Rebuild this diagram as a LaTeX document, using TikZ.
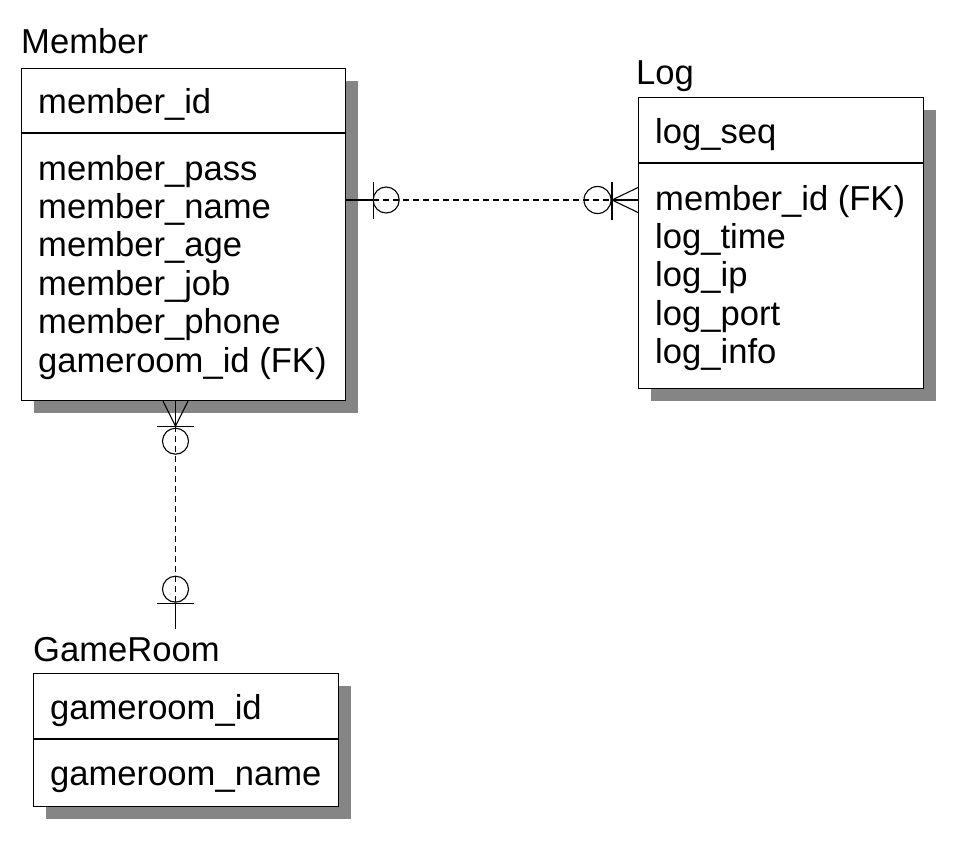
\documentclass[tikz,border=0pt]{standalone}
\usepackage{fontspec}
\setmainfont{Liberation Sans}
\usetikzlibrary{calc}
\newcommand\attrfont{\fontsize{34.6}{40}\selectfont}
\begin{document}
\begin{tikzpicture}[x=1pt,y=-1pt,
  entity/.style={draw, line width=1.2pt, fill=white, inner sep=0pt, anchor=north west},
  shadowbox/.style={fill=black!48, draw=none, inner sep=0pt, anchor=north west},
  ttl/.style={anchor=base west, inner sep=0pt, font=\attrfont},
  attr/.style={anchor=base west, inner sep=0pt, font=\attrfont},
  divider/.style={line width=1.2pt},
  rel/.style={line width=1.1pt},
  reldash/.style={line width=1.1pt, dash pattern=on 6pt off 4pt},
]
\useasboundingbox (0,0) rectangle (970,844);

% ---------- Member ----------
\node[shadowbox, minimum width=324pt, minimum height=332pt] (membershadow) at (34,81) {};
\node[entity, minimum width=324pt, minimum height=332pt] (member) at (21,68) {};
\draw[divider] ($(member.north west)+(0,65)$) -- ($(member.north east)+(0,65)$);
\node[ttl] (membertitle) at (21,53) {Member};
\node[attr] (m0) at (38,113) {member\_id};
\node[attr] (m1) at (38,180) {member\_pass};
\node[attr] (m2) at (38,218.4) {member\_name};
\node[attr] (m3) at (38,256.8) {member\_age};
\node[attr] (m4) at (38,295.2) {member\_job};
\node[attr] (m5) at (38,333.6) {member\_phone};
\node[attr] (m6) at (38,372) {gameroom\_id (FK)};

% ---------- Log ----------
\node[shadowbox, minimum width=285pt, minimum height=291pt] (logshadow) at (651,110) {};
\node[entity, minimum width=285pt, minimum height=291pt] (log) at (638,97) {};
\draw[divider] ($(log.north west)+(0,66)$) -- ($(log.north east)+(0,66)$);
\node[ttl] (logtitle) at (636,84) {Log};
\node[attr] (l0) at (655,143) {log\_seq};
\node[attr] (l1) at (655,210) {member\_id (FK)};
\node[attr] (l2) at (655,248.4) {log\_time};
\node[attr] (l3) at (655,286.8) {log\_ip};
\node[attr] (l4) at (655,325.2) {log\_port};
\node[attr] (l5) at (655,363.6) {log\_info};

% ---------- GameRoom ----------
\node[shadowbox, minimum width=305pt, minimum height=133pt] (gameshadow) at (45.5,686) {};
\node[entity, minimum width=305pt, minimum height=133pt] (game) at (32.5,673) {};
\draw[divider] ($(game.north west)+(0,66)$) -- ($(game.north east)+(0,66)$);
\node[ttl] (gametitle) at (33,661) {GameRoom};
\node[attr] (g0) at (50,719) {gameroom\_id};
\node[attr] (g1) at (50,785) {gameroom\_name};

% ---------- Member -- Log ----------
\coordinate (mlA) at ($(member.north east)+(0,132)$);
\coordinate (mlB) at (log.west |- mlA);
\coordinate (mlBar) at ($(mlA)+(27,0)$);
\coordinate (mlApex) at ($(mlB)+(-26,0)$);
\draw[rel] (mlA) -- (mlBar);
\draw[rel] ($(mlBar)+(0,-18.5)$) -- ($(mlBar)+(0,18.5)$);
\draw[rel] ($(mlBar)+(13,0)$) circle[radius=13];
\draw[reldash] (mlBar) -- (mlApex);
\draw[rel] ($(mlApex)+(-14.5,0)$) circle[radius=13.5];
\draw[rel] ($(mlApex)+(0,-18.5)$) -- ($(mlApex)+(0,19.5)$);
\draw[rel] (mlApex) -- (mlB);
\draw[rel] ($(mlB)+(0,-12.5)$) -- (mlApex) -- ($(mlB)+(0,12.5)$);

% ---------- Member -- GameRoom ----------
\coordinate (mgA) at ($(member.south west)+(154.5,0)$);
\coordinate (mgApex) at ($(mgA)+(0,25)$);
\coordinate (mgBar) at ($(mgA)+(0,202)$);
\coordinate (mgEnd) at ($(mgA)+(0,228)$);
\draw[rel] (mgA) -- (mgApex);
\draw[rel] ($(mgA)+(-12.5,0)$) -- (mgApex) -- ($(mgA)+(12.5,0)$);
\draw[rel] ($(mgApex)+(-18.5,0)$) -- ($(mgApex)+(18.5,0)$);
\draw[rel] ($(mgApex)+(0,15)$) circle[radius=13];
\draw[reldash] (mgApex) -- (mgBar);
\draw[rel] ($(mgBar)+(0,-14)$) circle[radius=13];
\draw[rel] ($(mgBar)+(-18.5,0)$) -- ($(mgBar)+(18.5,0)$);
\draw[rel] (mgBar) -- (mgEnd);
\end{tikzpicture}
\end{document}
